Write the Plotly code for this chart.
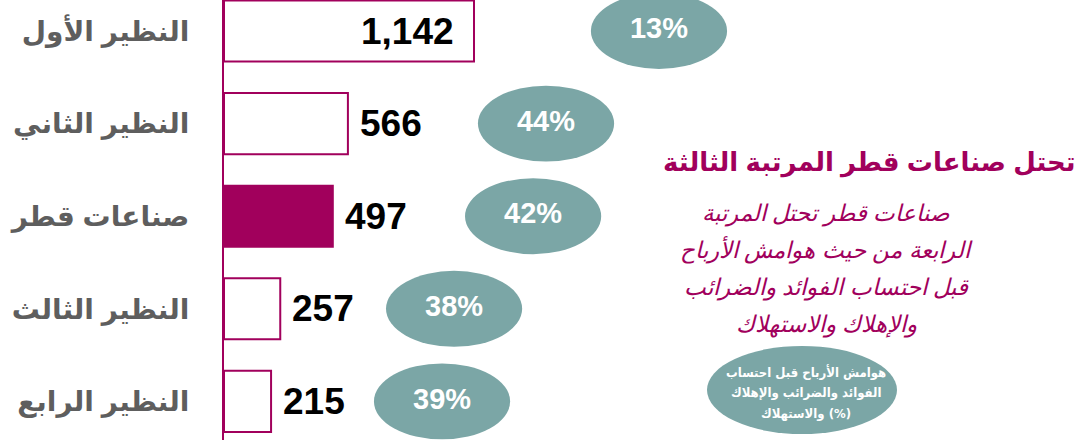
import plotly.graph_objects as go

# ---- data ----
categories = ["النظير الأول", "النظير الثاني", "صناعات قطر", "النظير الثالث", "النظير الرابع"]
values = [1142, 566, 497, 257, 215]
ebitda_margin = [13, 44, 42, 38, 39]
highlight = "صناعات قطر"

title_text = "تحتل صناعات قطر المرتبة الثالثة"
subtitle_lines = ["صناعات قطر تحتل المرتبة", "الرابعة من حيث هوامش الأرباح",
                  "قبل احتساب الفوائد والضرائب", "والإهلاك والاستهلاك"]
legend_lines = ["هوامش الأرباح قبل احتساب", "الفوائد والضرائب والإهلاك", "والاستهلاك (%)"]

# ---- layout helpers (positions, not data) ----
bubble_x = [1987, 1471, 1412, 1051, 996]   # bubble centres in x-axis units
bubble_rx = 311
bubble_ry = 0.41

MAG = "#A1005C"
TEAL = "#7BA6A6"
GREY = "#5E5E5E"
AR = "Arial, 'Liberation Sans', 'DejaVu Sans', sans-serif"
ARC = "'DejaVu Sans Condensed', 'DejaVu Sans', sans-serif"

W, H = 1078, 440
L = 224
idx = list(range(len(categories)))

fig = go.Figure()
fig.add_trace(go.Bar(
    x=values, y=idx, orientation="h", width=0.66,
    marker=dict(color=[MAG if c == highlight else "white" for c in categories],
                line=dict(color=MAG, width=2)),
    hoverinfo="skip",
))

shapes = []
for i, bx in enumerate(bubble_x):
    shapes.append(dict(type="circle", xref="x", yref="y",
                       x0=bx - bubble_rx, x1=bx + bubble_rx,
                       y0=i - bubble_ry, y1=i + bubble_ry,
                       fillcolor=TEAL, line=dict(width=0), layer="below"))

fig.add_trace(go.Scatter(
    x=bubble_x, y=idx, mode="text",
    text=[f"{m}%" for m in ebitda_margin],
    textfont=dict(family="'Liberation Sans', Arial, sans-serif", size=29, color="white", weight="bold"),
    hoverinfo="skip",
))

annotations = []
for i, v in enumerate(values):
    inside = v == max(values)
    annotations.append(dict(
        x=v, y=i, xref="x", yref="y", text=f"{v:,}", showarrow=False,
        xanchor="right" if inside else "left", xshift=-18 if inside else 10,
        font=dict(family="'Liberation Sans', Arial, sans-serif", size=37, color="black", weight="bold"),
    ))

annotations.append(dict(
    x=1, y=1 - 162 / H, xref="paper", yref="paper", text=title_text, showarrow=False,
    xanchor="right", yanchor="middle",
    font=dict(family=AR, size=26, color=MAG, weight="bold"),
))
for k, line in enumerate(subtitle_lines):
    annotations.append(dict(
        x=(826 - L) / (W - L), y=1 - (213 + 37.3 * k) / H, xref="paper", yref="paper",
        text=f"<i>{line}</i>", showarrow=False, xanchor="center", yanchor="middle",
        font=dict(family=AR, size=23, color=MAG),
    ))

shapes.append(dict(type="circle", xref="paper", yref="paper",
                   x0=(707 - L) / (W - L), x1=(897 - L) / (W - L),
                   y0=1 - 434 / H, y1=1 - 346 / H,
                   fillcolor=TEAL, line=dict(width=0), layer="below"))
for k, line in enumerate(legend_lines):
    annotations.append(dict(
        x=(806 - L) / (W - L), y=1 - (372 + 20.5 * k) / H, xref="paper", yref="paper",
        text=line, showarrow=False, xanchor="center", yanchor="middle",
        font=dict(family=ARC, size=13, color="white", weight="bold"),
    ))

fig.update_layout(
    width=W, height=H, margin=dict(l=L, r=0, t=0, b=0),
    paper_bgcolor="white", plot_bgcolor="white", showlegend=False,
    shapes=shapes, annotations=annotations,
    xaxis=dict(range=[0, (W - L) / (250 / 1142)], visible=False, showgrid=False, zeroline=False),
    yaxis=dict(range=[(440 - 31) / 92.6, -31 / 92.6], tickvals=idx, ticktext=categories,
               showline=True, linecolor=MAG, linewidth=2, showgrid=False, zeroline=False,
               ticks="", ticklabelstandoff=27,
               tickfont=dict(family=AR, size=28, color=GREY, weight="bold")),
)

fig.write_html("out.html", config={"displayModeBar": False},
               post_script="document.body.style.margin='0';")
